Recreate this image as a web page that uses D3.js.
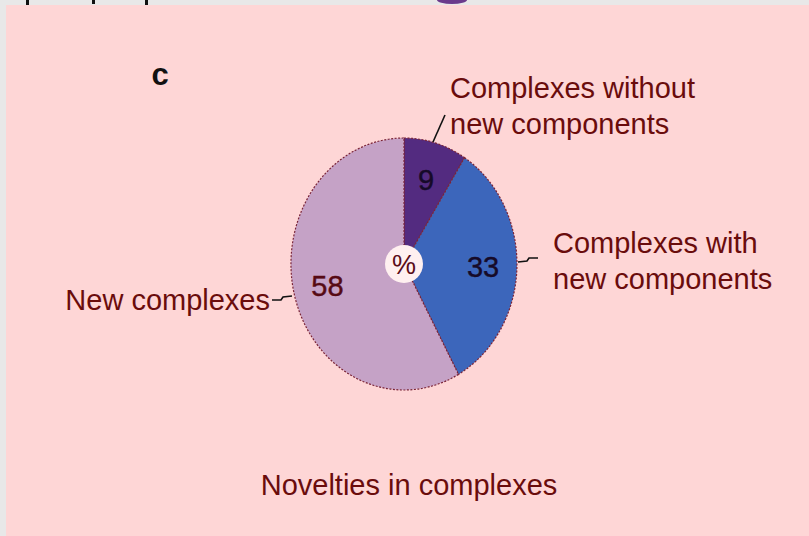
<!DOCTYPE html>
<html>
<head>
<meta charset="utf-8">
<script src="https://cdn.jsdelivr.net/npm/d3@7"></script>
<style>
  html, body { margin: 0; padding: 0; background: #e8e8e8; }
  svg { display: block; }
  text { font-family: "Liberation Sans", Arial, Helvetica, sans-serif; }
</style>
</head>
<body>
<svg id="chart" width="809" height="536"></svg>
<script>
// Share of complexes by novelty (percent)
const categories = ["Complexes without new components", "Complexes with new components", "New complexes"];
const values = [9, 33, 58];
const colors = ["#532b80", "#3c66bb", "#c5a2c6"];
const labelLines = [
  ["Complexes without", "new components"],
  ["Complexes with", "new components"],
  ["New complexes"]
];
const panelLetter = "c";
const title = "Novelties in complexes";

const W = 809, H = 536;
const svg = d3.select("#chart");

// panel background
svg.append("rect").attr("x", 6).attr("y", 5).attr("width", W - 6).attr("height", H - 5)
  .attr("fill", "#fed6d6");

// bits of the neighbouring figure above
const strip = svg.append("g").attr("fill", "#111");
[[26, 0, 3, 5], [92, 0, 3, 4], [145, 0, 3, 5]].forEach(r =>
  strip.append("rect").attr("x", r[0]).attr("y", r[1]).attr("width", r[2]).attr("height", r[3]));
svg.append("ellipse").attr("cx", 452).attr("cy", 0).attr("rx", 15).attr("ry", 4).attr("fill", "#6a3a8c");

const cx = 404, cy = 264, rx = 113, ry = 126;
const ink = "#6a0c0c";

const pie = d3.pie().sort(null).value(d => d)(values);
const arc = d3.arc().innerRadius(0).outerRadius(1);
const labelArc = d3.arc().innerRadius(0.7).outerRadius(0.7);

const g = svg.append("g").attr("transform", `translate(${cx},${cy})`);
const slices = g.append("g").attr("transform", `scale(${rx},${ry})`);
slices.selectAll("path").data(pie).join("path")
  .attr("d", arc)
  .attr("fill", (d, i) => colors[i])
  .attr("stroke", "#7a2438")
  .attr("stroke-width", 1.2)
  .attr("stroke-dasharray", "2,1.5")
  .attr("vector-effect", "non-scaling-stroke");

// value labels
g.selectAll("text.val").data(pie).join("text")
  .attr("class", "val")
  .attr("x", d => labelArc.centroid(d)[0] * rx)
  .attr("y", d => labelArc.centroid(d)[1] * ry)
  .attr("dy", "0.36em")
  .attr("text-anchor", "middle")
  .attr("font-size", 29)
  .attr("stroke-width", 0.4)
  .attr("fill", (d, i) => i === 2 ? "#560a14" : "#160a28")
  .attr("stroke", (d, i) => i === 2 ? "#560a14" : "#160a28")
  .text(d => d.data);

// centre badge
g.append("circle").attr("r", 19).attr("fill", "#fff0f0");
g.append("text").attr("y", 0).attr("dy", "0.36em").attr("text-anchor", "middle")
  .attr("font-size", 27).attr("fill", "#5a0c18").text("%");

// leader lines
const leaders = [
  [[433, 142], [445, 115]],
  [[518, 262], [527, 261], [529, 258], [538, 258]],
  [[292, 296], [283, 297], [281, 300], [272, 300]]
];
svg.append("g").selectAll("path").data(leaders).join("path")
  .attr("d", d3.line())
  .attr("fill", "none").attr("stroke", "#111").attr("stroke-width", 1.6);

// category labels
const labelPos = [[450, 98, "start"], [553, 253, "start"], [270, 310, "end"]];
labelLines.forEach((lines, i) => {
  const t = svg.append("text")
    .attr("x", labelPos[i][0]).attr("y", labelPos[i][1])
    .attr("text-anchor", labelPos[i][2])
    .attr("font-size", 29).attr("fill", ink);
  lines.forEach((s, j) => t.append("tspan").attr("x", labelPos[i][0]).attr("dy", j ? 36 : 0).text(s));
});

svg.append("text").attr("x", 160).attr("y", 85).attr("text-anchor", "middle")
  .attr("font-size", 31).attr("font-weight", "bold").attr("fill", "#111").text(panelLetter);

svg.append("text").attr("x", 409).attr("y", 495).attr("text-anchor", "middle")
  .attr("font-size", 29).attr("fill", ink).text(title);
</script>
</body>
</html>
